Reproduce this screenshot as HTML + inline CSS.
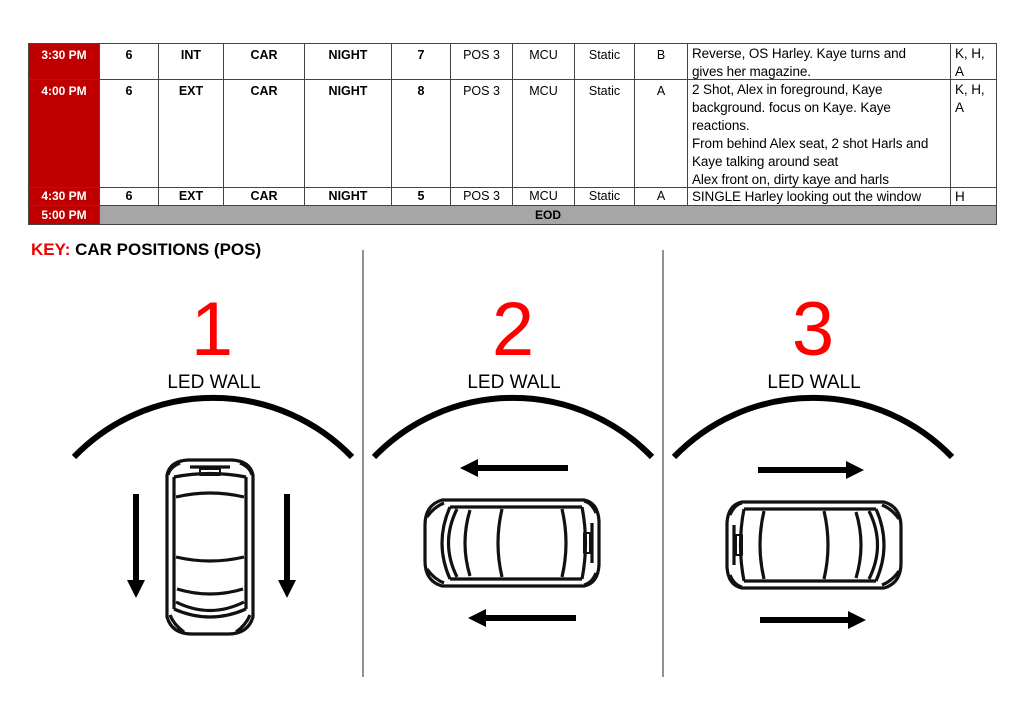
<!DOCTYPE html>
<html><head><meta charset="utf-8"><style>
body{margin:0;background:#fff;width:1024px;height:724px;overflow:hidden;position:relative;font-family:"Liberation Sans",sans-serif}
.c{position:absolute;box-sizing:border-box;border:1px solid #444;font-size:12.5px;text-align:center;padding-top:2px;line-height:18px;overflow:hidden;white-space:nowrap}
.t{background:#c00000;color:#fff;font-weight:bold;font-size:12px;border-color:#444}
.b{font-weight:bold}
.l{text-align:left;padding-left:4px;font-size:13.5px;letter-spacing:-0.1px;padding-top:1px}
</style></head><body>
<div id="tbl"></div>
<script>
var cols=[28,99,158,223,304,391,450,512,574,634,687,950,996];
var rows=[[43,79],[79,187],[187,205]];
var data=[
["3:30 PM","6","INT","CAR","NIGHT","7","POS 3","MCU","Static","B","Reverse, OS Harley. Kaye turns and<br>gives her magazine.","K, H,<br>A"],
["4:00 PM","6","EXT","CAR","NIGHT","8","POS 3","MCU","Static","A","2 Shot, Alex in foreground, Kaye<br>background. focus on Kaye. Kaye<br>reactions.<br>From behind Alex seat, 2 shot Harls and<br>Kaye talking around seat<br>Alex front on, dirty kaye and harls","K, H,<br>A"],
["4:30 PM","6","EXT","CAR","NIGHT","5","POS 3","MCU","Static","A","SINGLE Harley looking out the window","H"]];
var h="";
for(var r=0;r<3;r++){for(var i=0;i<12;i++){
var cls="c"+(i==0?" t":"")+(i>=1&&i<=5?" b":"")+(i>=10?" l":"");
var pt=(r==2)?"padding-top:0;line-height:17px;":"";
h+='<div class="'+cls+'" style="'+pt+'left:'+cols[i]+'px;top:'+rows[r][0]+'px;width:'+(cols[i+1]-cols[i]+1)+'px;height:'+(rows[r][1]-rows[r][0]+1)+'px">'+data[r][i]+'</div>';}}
h+='<div class="c t" style="left:28px;top:205px;width:72px;height:20px;padding-top:0">5:00 PM</div>';
h+='<div class="c b" style="left:99px;top:205px;width:898px;height:20px;background:#a6a6a6;padding-top:0;font-size:12px">EOD</div>';
document.getElementById("tbl").innerHTML=h;
</script>
<div style="position:absolute;left:31px;top:240px;font-size:17px;font-weight:bold"><span style="color:#e00">KEY:</span> CAR POSITIONS (POS)</div>
<svg width="1024" height="724" style="position:absolute;left:0;top:0">
<defs>
<g id="car" fill="none" stroke="#111" stroke-width="3.2" stroke-linejoin="round">
<path d="M-70,-43 Q-87,-38 -87,-18 L-87,18 Q-87,38 -70,43 L72,43 Q86,40 87,22 L87,-22 Q86,-40 72,-43 Z"/>
<path d="M-62,-36 Q-78,0 -62,36"/>
<path d="M-55,-34 Q-72,0 -55,34"/>
<path d="M-42,-33 Q-52,0 -42,33"/>
<path d="M-62,-36 L70,-36 M-62,36 L70,36"/>
<path d="M-10,-34 Q-18,0 -10,34"/>
<path d="M50,-34 Q58,0 50,34"/>
<path d="M70,-36 Q77,0 70,36"/>
<path d="M80,-20 L80,20"/>
<rect x="72" y="-10" width="6" height="20" stroke-width="2"/>
<path d="M-85,-26 Q-78,-36 -68,-40 M-85,26 Q-78,36 -68,40"/>
<path d="M84,-30 Q80,-40 72,-42 M84,30 Q80,40 72,42"/>
</g>
<marker id="ah" viewBox="0 0 10 10" refX="0" refY="5" markerWidth="3.6" markerHeight="3" orient="auto"><path d="M0,0 L10,5 L0,10Z" fill="#000"/></marker>
</defs>
<line x1="363" y1="250" x2="363" y2="677" stroke="#222" stroke-width="1"/>
<line x1="663" y1="250" x2="663" y2="677" stroke="#222" stroke-width="1"/>
<g font-size="76" fill="#f00" text-anchor="middle">
<text x="212" y="355">1</text><text x="513" y="355">2</text><text x="813" y="355">3</text></g>
<g font-size="19" fill="#000" text-anchor="middle">
<text x="214" y="388">LED WALL</text><text x="514" y="388">LED WALL</text><text x="814" y="388">LED WALL</text></g>
<g fill="none" stroke="#000" stroke-width="6">
<path d="M74,457 A193,193 0 0 1 352,457"/>
<path d="M374,457 A193,193 0 0 1 652,457"/>
<path d="M674,457 A193,193 0 0 1 952,457"/>
</g>
<g stroke="#000" stroke-width="6" marker-end="url(#ah)">
<line x1="136" y1="494" x2="136" y2="580"/>
<line x1="287" y1="494" x2="287" y2="580"/>
<line x1="568" y1="468" x2="478" y2="468"/>
<line x1="576" y1="618" x2="486" y2="618"/>
<line x1="758" y1="470" x2="846" y2="470"/>
<line x1="760" y1="620" x2="848" y2="620"/>
</g>
<use href="#car" transform="translate(210,547) rotate(-90)"/>
<use href="#car" transform="translate(512,543)"/>
<use href="#car" transform="translate(814,545) scale(-1,1)"/>
</svg>
</body></html>
